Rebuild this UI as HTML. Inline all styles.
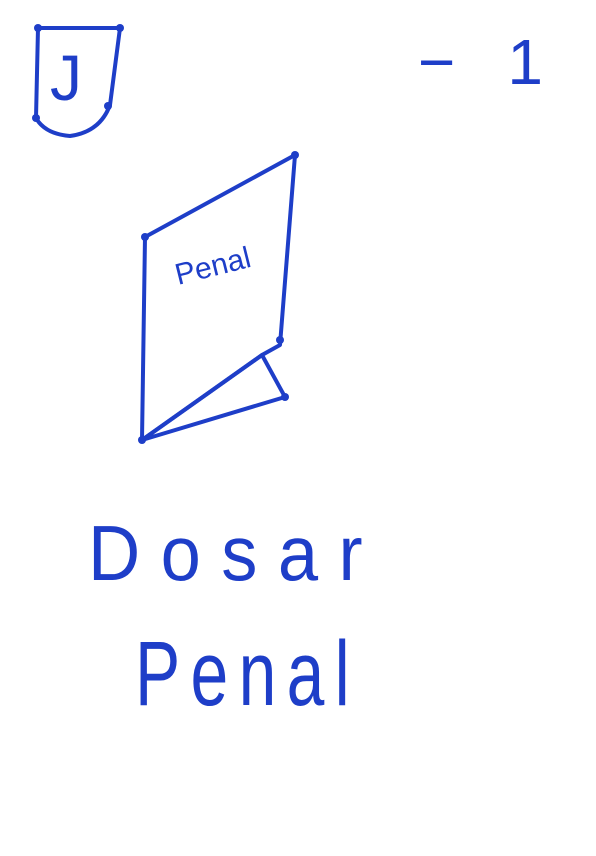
<!DOCTYPE html>
<html><head><meta charset="utf-8"><style>
html,body{margin:0;padding:0;background:#fff;}
svg{display:block;}
text{font-family:"Liberation Sans",sans-serif;fill:#1e3ec8;}
</style></head>
<body>
<svg width="596" height="856" viewBox="0 0 596 856">
<g fill="none" stroke="#1e3ec8" stroke-width="4" stroke-linecap="round" stroke-linejoin="round">
  <path d="M38,28 L120,28 L110,105 Q100,132 70,136 Q45,134 36,118 Z"/>
  <path d="M145,237 L295,155 L280,345 L262,355 L142,440 Z"/>
  <path d="M142,440 L262,355 L285,397 Z"/>
</g>
<g fill="#1e3ec8">
  <circle cx="38" cy="28" r="4"/><circle cx="120" cy="28" r="4"/><circle cx="36" cy="118" r="4"/><circle cx="108" cy="106" r="4"/>
  <circle cx="295" cy="155" r="4"/><circle cx="145" cy="237" r="4"/><circle cx="142" cy="440" r="4"/><circle cx="285" cy="397" r="4"/><circle cx="280" cy="340" r="4"/>
</g>
<text x="50" y="100" font-size="64">J</text>
<text x="418" y="84" font-size="64" textLength="125" lengthAdjust="spacing">−1</text>
<text x="178" y="285" font-size="30" transform="rotate(-14 178 285)">Penal</text>
<text x="88" y="580" font-size="78" letter-spacing="22" textLength="295" lengthAdjust="spacingAndGlyphs">Dosar</text>
<text x="135" y="705" font-size="92" letter-spacing="14" textLength="225" lengthAdjust="spacingAndGlyphs">Penal</text>
</svg>
</body></html>
